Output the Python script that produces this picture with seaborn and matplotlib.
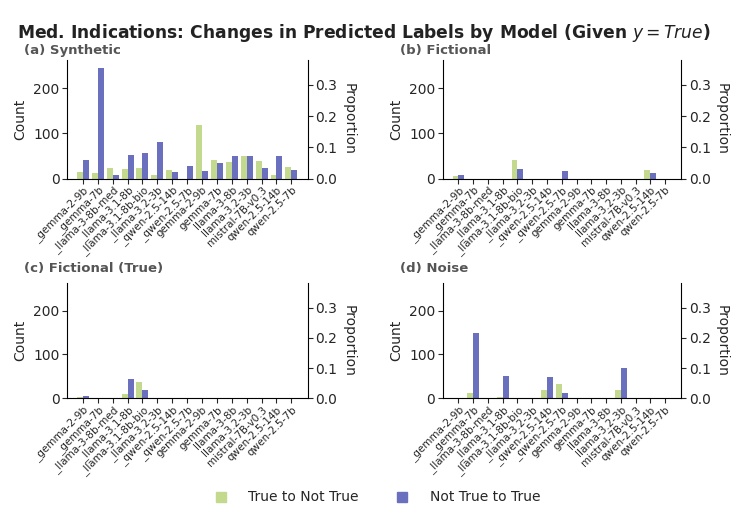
import numpy as np
import pandas as pd
import matplotlib
matplotlib.use("Agg")
import matplotlib.pyplot as plt
import seaborn as sns
from matplotlib.lines import Line2D

models = ["_gemma-2-9b", "_gemma-7b", "_llama-3-8b-med", "_llama-3.1-8b",
          "_llama-3.1-8b-bio", "_llama-3.2-3b", "_qwen-2.5-14b", "_qwen-2.5-7b",
          "gemma-2-9b", "gemma-7b", "llama-3-8b", "llama-3.2-3b",
          "mistral-7B-v0.3", "qwen-2.5-14b", "qwen-2.5-7b"]
series = ["True to Not True", "Not True to True"]
panels = ["(a) Synthetic", "(b) Fictional", "(c) Fictional (True)", "(d) Noise"]

synthetic_t2n = [14, 13, 24, 21, 24, 7, 19, 0, 119, 40, 36, 50, 38, 7, 26]
synthetic_n2t = [42, 244, 7, 52, 56, 81, 15, 27, 16, 35, 50, 50, 24, 50, 19]
fictional_t2n = [6, 0, 0, 0, 40, 0, 0, 0, 0, 0, 0, 0, 0, 19, 0]
fictional_n2t = [7, 0, 0, 0, 21, 0, 0, 16, 0, 0, 0, 0, 0, 13, 0]
fictrue_t2n = [4, 0, 0, 10, 37, 0, 0, 0, 0, 0, 0, 0, 0, 0, 0]
fictrue_n2t = [5, 0, 0, 43, 19, 0, 0, 0, 0, 0, 0, 0, 0, 0, 0]
noise_t2n = [0, 13, 0, 4, 0, 0, 18, 33, 0, 0, 0, 20, 0, 0, 0]
noise_n2t = [0, 149, 0, 50, 0, 0, 48, 13, 0, 0, 0, 70, 0, 0, 0]

panel_data = [(synthetic_t2n, synthetic_n2t), (fictional_t2n, fictional_n2t),
              (fictrue_t2n, fictrue_n2t), (noise_t2n, noise_n2t)]

N_TOTAL = 690
YMAX = 262
colors = ["#c3d98d", "#6b70be"]

sns.set_theme(style="white")
plt.rcParams['font.family'] = ['DejaVu Sans']

fig = plt.figure(figsize=(7.47, 5.22), dpi=100)
positions = [(0.090, 0.658, 0.322, 0.227), (0.593, 0.658, 0.319, 0.227),
             (0.090, 0.237, 0.322, 0.220), (0.593, 0.237, 0.319, 0.220)]
title_pos = [(0.032, 0.903), (0.535, 0.903), (0.032, 0.486), (0.535, 0.486)]

for i, (t2n, n2t) in enumerate(panel_data):
    ax = fig.add_axes(positions[i])
    df = pd.DataFrame({
        "model": models * 2,
        "count": list(t2n) + list(n2t),
        "change": [series[0]] * len(models) + [series[1]] * len(models),
    })
    sns.barplot(data=df, x="model", y="count", hue="change", order=models,
                hue_order=series, palette=colors, width=0.8, ax=ax,
                saturation=1, legend=False, linewidth=0)
    ax.set_xlim(-1.05, 15.1)
    ax.set_ylim(0, YMAX)
    ax.set_yticks([0, 100, 200])
    ax.set_xlabel("")
    ax.set_ylabel("Count", fontsize=10)
    ax.tick_params(axis="y", labelsize=10, left=True, length=3.5, width=0.8, pad=2)
    ax.tick_params(axis="x", labelsize=7.5, bottom=True, length=3.5, width=0.8, pad=1)
    ax.set_xticks(range(len(models)))
    ax.set_xticklabels(models, rotation=45, ha="right", rotation_mode="anchor")
    for s in ["top", "right"]:
        ax.spines[s].set_visible(False)
    for s in ["left", "bottom"]:
        ax.spines[s].set_color("black")
        ax.spines[s].set_linewidth(0.8)
    ax2 = ax.twinx()
    ax2.set_ylim(0, YMAX / N_TOTAL)
    ax2.set_yticks([0.0, 0.1, 0.2, 0.3])
    ax2.set_yticklabels(["0.0", "0.1", "0.2", "0.3"])
    ax2.tick_params(axis="y", labelsize=10, right=True, length=3.5, width=0.8, pad=2)
    ax2.set_ylabel("Proportion", rotation=270, labelpad=13, fontsize=10)
    ax2.grid(False)
    for s in ["top", "left", "bottom"]:
        ax2.spines[s].set_visible(False)
    ax2.spines["right"].set_color("black")
    ax2.spines["right"].set_linewidth(0.8)
    fig.text(title_pos[i][0], title_pos[i][1], panels[i], fontsize=9.5,
             fontweight="bold", color="#555555", ha="left", va="center")

fig.suptitle("Med. Indications: Changes in Predicted Labels by Model (Given $y = True$)",
             x=0.487, y=0.958, fontsize=12.3, fontweight="bold", color="#222222")

handles = [Line2D([0], [0], marker="s", linestyle="none", markersize=7,
                  markerfacecolor=c, markeredgecolor=c) for c in colors]
fig.legend(handles, series, loc="center", bbox_to_anchor=(0.5, 0.047), ncol=2,
           frameon=False, fontsize=10, handletextpad=1.0, columnspacing=2.1)

fig.savefig("out.png", dpi=100)
